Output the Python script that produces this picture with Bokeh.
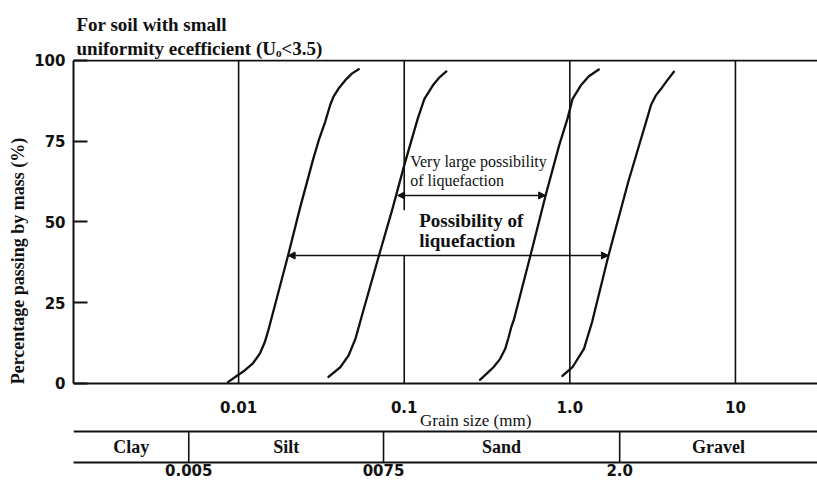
import math
from bokeh.plotting import figure
from bokeh.models import (LogAxis, FixedTicker, Range1d, Span, Arrow, NormalHead,
                          Title)
from bokeh.core.properties import value
from bokeh.embed import file_html
from bokeh.resources import INLINE

# ---------------- data ----------------
title_lines = ["For soil with small", "uniformity ecefficient (Uₒ<3.5)"]
y_label = "Percentage passing by mass (%)"
x_label = "Grain size (mm)"

x_ticks = [0.01, 0.1, 1.0, 10.0]
x_tick_labels = ["0.01", "0.1", "1.0", "10"]
y_ticks = [0, 25, 50, 75, 100]

# grading curves: grain size (mm) / percentage passing (%)
c1_d = [0.00862, 0.00968, 0.01088, 0.01224, 0.01343, 0.0144, 0.01511, 0.01567, 0.01989, 0.02345,
        0.02826, 0.03075, 0.03332, 0.03573, 0.03742, 0.04015, 0.0441, 0.04845, 0.05315]
c1_p = [0.4, 2.2, 4.0, 6.3, 9.2, 12.8, 16.4, 19.5, 39.6, 54.2,
        69.6, 75.9, 81.0, 86.2, 88.8, 91.3, 93.9, 96.0, 97.3]

c2_d = [0.0349, 0.04111, 0.04619, 0.05074, 0.05705, 0.0704, 0.08499, 0.1, 0.1207, 0.1324, 0.149, 0.1634, 0.1796]
c2_p = [2.0, 5.0, 8.7, 13.8, 23.1, 39.6, 54.1, 67.5, 82.0, 88.1, 92.3, 94.8, 96.6]

c3_d = [0.2866, 0.3148, 0.3459, 0.3795, 0.4073, 0.4271, 0.443, 0.4581, 0.5784, 0.7141,
        0.8619, 0.9683, 1.039, 1.167, 1.303, 1.496]
c3_p = [1.1, 3.0, 5.0, 7.6, 10.7, 14.3, 17.4, 19.5, 39.6, 58.2,
        73.7, 82.0, 88.1, 92.3, 95.1, 97.2]

c4_d = [0.9026, 1.037, 1.217, 1.363, 1.712, 2.25, 2.698, 2.888, 3.092, 3.311, 3.627, 3.884, 4.249]
c4_p = [2.3, 5.0, 10.7, 19.0, 39.6, 62.3, 75.9, 81.0, 86.2, 89.2, 91.8, 93.9, 96.5]

curves = [(c1_d, c1_p), (c2_d, c2_p), (c3_d, c3_p), (c4_d, c4_p)]

# vertical decade lines (the 0.1 line is interrupted behind the text)
grid_x = [0.01, 0.1, 0.1, 1.0, 10.0]
grid_y0 = [0, 0, 53.6, 0, 0]
grid_y1 = [100, 39.6, 100, 100, 100]

# liquefaction ranges (double arrows)
arrow_y = [58.2, 39.6]
arrow_from = [0.0912, 0.0199]
arrow_to = [0.714, 1.712]

# annotations
small_text = ["Very large possibility", "of liquefaction"]
small_text_y = [68.7, 62.8]
small_text_x = 0.1087
big_text = ["Possibility of", "liquefaction"]
big_text_y = [50.5, 44.3]
big_text_x = 0.1232

# soil classification band
soil_names = ["Clay", "Silt", "Sand", "Gravel"]
soil_bounds = [0.005, 0.075, 2.0]
soil_bound_labels = ["0.005", "0075", "2.0"]

# ---------------- layout constants ----------------
X_START, X_END = 0.001007, 31.3
Y_START, Y_END = -24.5, 100.3
TABLE_TOP = -14.9
TABLE_MID = -19.7
XLABEL_Y = -11.5
XLABEL_X = 0.27

SERIF = "Liberation Serif"
SANS = "DejaVu Sans"
BLACK = "#111111"

p = figure(width=817, height=480, x_axis_type="log",
           x_range=Range1d(X_START, X_END), y_range=Range1d(Y_START, Y_END),
           output_backend="svg", toolbar_location=None,
           min_border=0, min_border_left=73, min_border_top=59,
           min_border_bottom=18, min_border_right=0)
p.outline_line_color = None
p.background_fill_color = "white"
p.border_fill_color = "white"
p.xgrid.visible = False
p.ygrid.visible = False

# titles (bottom line added first so it sits nearest the frame)
for line in reversed(title_lines):
    t = Title(text=line, align="left", offset=3, standoff=1,
              text_font=SERIF, text_font_style="bold", text_font_size="19px",
              text_color=BLACK)
    p.add_layout(t, "above")

# bottom axis -> classification band boundaries
bax = p.below[0]
bax.ticker = FixedTicker(ticks=soil_bounds)
bax.major_label_overrides = dict(zip(soil_bounds, soil_bound_labels))
bax.major_tick_out = 0
bax.major_tick_in = 0
bax.minor_tick_out = 0
bax.minor_tick_in = 0
bax.major_label_standoff = 1
bax.axis_line_width = 2
bax.axis_line_color = BLACK
bax.major_label_text_font = SANS
bax.major_label_text_font_style = "bold"
bax.major_label_text_font_size = "15px"
bax.major_label_text_color = BLACK

# main grain size axis at y = 0
max_ = LogAxis(ticker=FixedTicker(ticks=x_ticks), fixed_location=0,
               major_label_overrides=dict(zip(x_ticks, x_tick_labels)),
               major_tick_out=0, major_tick_in=0, minor_tick_out=0, minor_tick_in=0,
               major_label_standoff=18, axis_line_width=2, axis_line_color=BLACK,
               major_label_text_font=SANS, major_label_text_font_style="bold",
               major_label_text_font_size="15px", major_label_text_color=BLACK)
p.add_layout(max_, "below")

# y axis
yax = p.yaxis[0]
yax.ticker = FixedTicker(ticks=y_ticks)
yax.bounds = (0, 100)
yax.major_tick_in = 14
yax.major_tick_out = 0
yax.minor_tick_in = 0
yax.minor_tick_out = 0
yax.major_tick_line_width = 2
yax.major_tick_line_color = BLACK
yax.axis_line_width = 2
yax.axis_line_color = BLACK
yax.major_label_standoff = 8
yax.major_label_text_font = SANS
yax.major_label_text_font_style = "bold"
yax.major_label_text_font_size = "15px"
yax.major_label_text_color = BLACK
yax.axis_label = y_label
yax.axis_label_standoff = 3
yax.axis_label_text_font = SERIF
yax.axis_label_text_font_style = "bold"
yax.axis_label_text_font_size = "18px"
yax.axis_label_text_color = BLACK

# top border and band top line
p.add_layout(Span(location=100, dimension="width", line_color=BLACK, line_width=2))
p.add_layout(Span(location=TABLE_TOP, dimension="width", line_color=BLACK, line_width=2))

# vertical decade lines
p.segment(x0=grid_x, y0=grid_y0, x1=grid_x, y1=grid_y1, line_color=BLACK, line_width=1.6)

# grading curves
for d, pct in curves:
    p.line(d, pct, line_color=BLACK, line_width=2.3, line_join="round", line_cap="round")

# arrows
for y, a, b in zip(arrow_y, arrow_from, arrow_to):
    p.add_layout(Arrow(x_start=a, y_start=y, x_end=b, y_end=y,
                       line_color=BLACK, line_width=1.5,
                       start=NormalHead(size=7, fill_color=BLACK, line_color=BLACK),
                       end=NormalHead(size=7, fill_color=BLACK, line_color=BLACK)))

# annotation texts
p.text(x=[small_text_x] * len(small_text), y=small_text_y, text=small_text,
       text_font=value(SERIF), text_font_size="16px", text_color=BLACK,
       text_baseline="middle", text_align="left")
p.text(x=[big_text_x] * len(big_text), y=big_text_y, text=big_text,
       text_font=value(SERIF), text_font_style="bold", text_font_size="19px",
       text_color=BLACK, text_baseline="middle", text_align="left")

# x axis title
p.text(x=[XLABEL_X], y=[XLABEL_Y], text=[x_label], text_font=value(SERIF),
       text_font_size="17px", text_color=BLACK, text_baseline="middle", text_align="center")

# classification band
edges = [X_START] + soil_bounds + [X_END]
centers = [math.sqrt(edges[i] * edges[i + 1]) for i in range(len(soil_names))]
p.segment(x0=soil_bounds, y0=[TABLE_TOP] * len(soil_bounds), x1=soil_bounds,
          y1=[Y_START] * len(soil_bounds), line_color=BLACK, line_width=1.6)
p.text(x=centers, y=[TABLE_MID] * len(soil_names), text=soil_names,
       text_font=value(SERIF), text_font_style="bold", text_font_size="18px",
       text_color=BLACK, text_baseline="middle", text_align="center")

open("out.html", "w").write(file_html(p, INLINE))
